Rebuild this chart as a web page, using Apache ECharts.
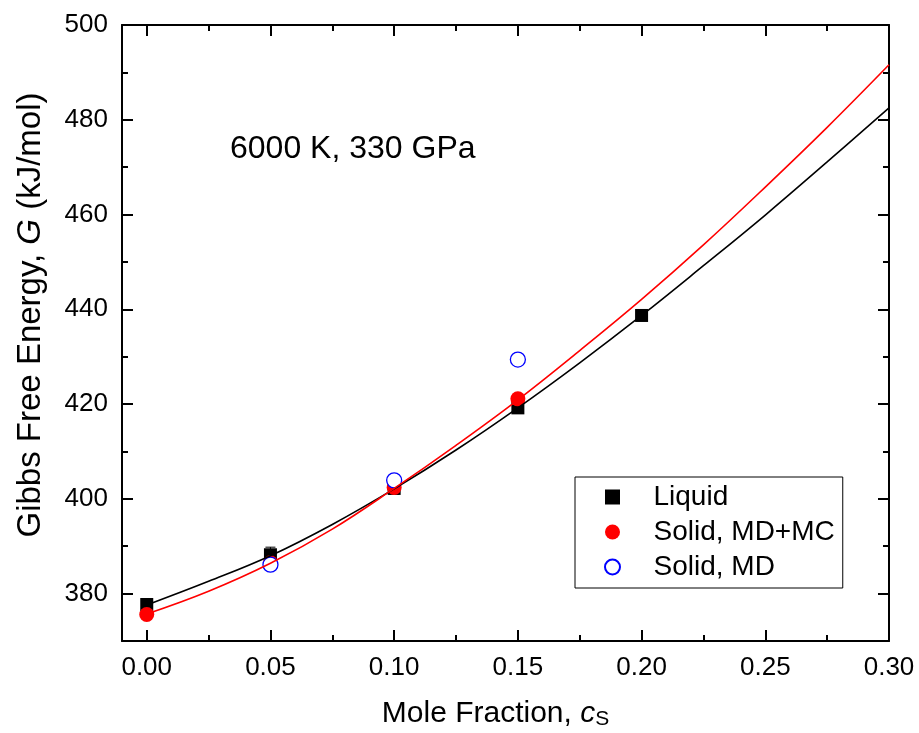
<!DOCTYPE html>
<html>
<head>
<meta charset="utf-8">
<script src="https://cdn.jsdelivr.net/npm/echarts@6/dist/echarts.min.js"></script>
<style>html,body{margin:0;padding:0;background:#fff}#c{width:919px;height:733px}</style>
</head>
<body>
<div id="c"></div>
<script>
// ---- data ----
const liquidX = [0.00, 0.05, 0.10, 0.15, 0.20];
const liquidG = [377.7, 388.2, 402.2, 419.2, 438.7];
const liquidErr = [1.0, 1.6, 1.2, 0.8, 0.6];

const solidMCX = [0.00, 0.05, 0.10, 0.15];
const solidMCG = [375.6, 386.5, 402.4, 421.1];

const solidMDX = [0.05, 0.10, 0.15];
const solidMDG = [386.1, 403.9, 429.4];

const fitX = [0, 0.025, 0.05, 0.075, 0.10, 0.125, 0.15, 0.175, 0.20, 0.225, 0.25, 0.275, 0.30];
const fitLiquid = [377.6, 382.6, 388.0, 394.6, 402.1, 410.3, 419.2, 428.7, 438.7, 449.2, 459.9, 471.1, 482.5];
const fitSolid = [375.7, 380.5, 386.4, 393.6, 402.2, 411.3, 420.9, 431.3, 442.1, 453.6, 465.8, 478.4, 491.6];

const xMajor = [0.00, 0.05, 0.10, 0.15, 0.20, 0.25, 0.30];
const xMinor = [0.025, 0.075, 0.125, 0.175, 0.225, 0.275];
const yMajor = [380, 400, 420, 440, 460, 480, 500];
const yMinor = [390, 410, 430, 450, 470, 490];

const FONT = 'Liberation Sans, Arial, sans-serif';
const pairs = (xs, ys) => xs.map((x, i) => [x, ys[i]]);

function xAx(pos, values, len, showLabel, showLine) {
  return {
    type: 'value', position: pos, min: -0.01, max: 0.30, gridIndex: 0,
    axisLine: { show: showLine, onZero: false, lineStyle: { color: '#000', width: 2 } },
    axisTick: { show: true, inside: true, length: len, customValues: values, lineStyle: { color: '#000', width: 2 } },
    axisLabel: showLabel ? { show: true, customValues: values, margin: 14, fontSize: 26, color: '#000', fontFamily: FONT,
      formatter: v => v.toFixed(2) } : { show: false },
    splitLine: { show: false }
  };
}
function yAx(pos, values, len, showLabel, showLine) {
  return {
    type: 'value', position: pos, min: 370, max: 500, gridIndex: 0,
    axisLine: { show: showLine, onZero: false, lineStyle: { color: '#000', width: 2 } },
    axisTick: { show: true, inside: true, length: len, customValues: values, lineStyle: { color: '#000', width: 2 } },
    axisLabel: showLabel ? { show: true, customValues: values, margin: 14, fontSize: 26, color: '#000', fontFamily: FONT } : { show: false },
    splitLine: { show: false }
  };
}

const xAxes = [
  xAx('bottom', xMajor, 11, true, true),
  xAx('bottom', xMinor, 6, false, false),
  xAx('top', xMajor, 11, false, true),
  xAx('top', xMinor, 6, false, false)
];
xAxes[0].name = '{n|Mole Fraction, }{i|c}{s|S}';
xAxes[0].nameLocation = 'middle';
xAxes[0].nameGap = 56;
xAxes[0].nameTextStyle = {
  padding: [0, 20, 0, 0],
  rich: {
    n: { fontSize: 30, fontFamily: FONT, color: '#000' },
    i: { fontSize: 30, fontFamily: FONT, fontStyle: 'italic', color: '#000' },
    s: { fontSize: 21, fontFamily: FONT, color: '#000', verticalAlign: 'bottom', padding: [12, 0, 0, 0] }
  }
};
const yAxes = [
  yAx('left', yMajor, 11, true, true),
  yAx('left', yMinor, 6, false, false),
  yAx('right', yMajor, 11, false, true),
  yAx('right', yMinor, 6, false, false)
];
yAxes[0].name = '{n|Gibbs Free Energy, }{i|G}{n| (kJ/mol)}';
yAxes[0].nameLocation = 'middle';
yAxes[0].nameGap = 75;
yAxes[0].nameTextStyle = {
  padding: [0, 0, 0, 36],
  rich: {
    n: { fontSize: 33, fontFamily: FONT, color: '#000' },
    i: { fontSize: 33, fontFamily: FONT, fontStyle: 'italic', color: '#000' }
  }
};

const chart = echarts.init(document.getElementById('c'), null, { renderer: 'canvas' });
chart.setOption({
  backgroundColor: '#fff',
  animation: false,
  grid: { left: 122, right: 30, top: 25, bottom: 92, containLabel: false, outerBoundsMode: 'none' },
  xAxis: xAxes,
  yAxis: yAxes,
  legend: {
    data: [
      { name: 'Liquid', icon: 'path://M0,0L10,0L10,10L0,10Z', itemStyle: { color: '#000', opacity: 1 } },
      { name: 'Solid, MD+MC', itemStyle: { opacity: 1 } },
      { name: 'Solid, MD', itemStyle: { opacity: 1 } }
    ],
    orient: 'vertical',
    left: 575, top: 477,
    padding: [6, 8, 7, 29],
    itemGap: 7,
    itemWidth: 72,
    itemHeight: 15,
    symbolKeepAspect: true,
    borderColor: '#000', borderWidth: 1,
    textStyle: { fontSize: 28, fontFamily: FONT, color: '#000', lineHeight: 28 },
    selectedMode: false
  },
  graphic: [{
    type: 'text', left: 230, top: 133,
    style: { text: '6000 K, 330 GPa', fontSize: 32, fontFamily: FONT, fill: '#000' }
  }],
  series: [
    {
      name: 'errLiquid', type: 'custom', xAxisIndex: 0, yAxisIndex: 0, z: 3,
      data: liquidX.map((x, i) => [x, liquidG[i] - liquidErr[i], liquidG[i] + liquidErr[i]]),
      encode: { x: 0, y: [1, 2] },
      renderItem: (params, api) => {
        const lo = api.coord([api.value(0), api.value(1)]);
        const hi = api.coord([api.value(0), api.value(2)]);
        const w = 5;
        const st = { stroke: '#000', lineWidth: 1 };
        return { type: 'group', children: [
          { type: 'line', shape: { x1: lo[0], y1: lo[1], x2: hi[0], y2: hi[1] }, style: st },
          { type: 'line', shape: { x1: hi[0] - w, y1: hi[1], x2: hi[0] + w, y2: hi[1] }, style: st },
          { type: 'line', shape: { x1: lo[0] - w, y1: lo[1], x2: lo[0] + w, y2: lo[1] }, style: st }
        ] };
      }
    },
    {
      name: 'Liquid', type: 'scatter', symbol: 'rect', symbolSize: 13, z: 4,
      itemStyle: { color: '#000', opacity: 1 }, data: pairs(liquidX, liquidG)
    },
    {
      name: 'Solid, MD+MC', type: 'scatter', symbol: 'circle', symbolSize: 15, z: 5,
      itemStyle: { color: '#ff0000', opacity: 1 }, data: pairs(solidMCX, solidMCG)
    },
    {
      name: 'Solid, MD', type: 'scatter', symbol: 'circle', symbolSize: 15, z: 6,
      itemStyle: { color: '#fff', borderColor: '#0000ff', borderWidth: 1.3, opacity: 1 }, data: pairs(solidMDX, solidMDG)
    },
    {
      name: 'fitLiquid', type: 'line', smooth: 0.4, showSymbol: false, symbol: 'none', z: 7,
      lineStyle: { color: '#000', width: 1.6 }, data: pairs(fitX, fitLiquid)
    },
    {
      name: 'fitSolid', type: 'line', smooth: 0.4, showSymbol: false, symbol: 'none', z: 7,
      lineStyle: { color: '#ff0000', width: 1.6 }, data: pairs(fitX, fitSolid)
    }
  ]
});
</script>
</body>
</html>
